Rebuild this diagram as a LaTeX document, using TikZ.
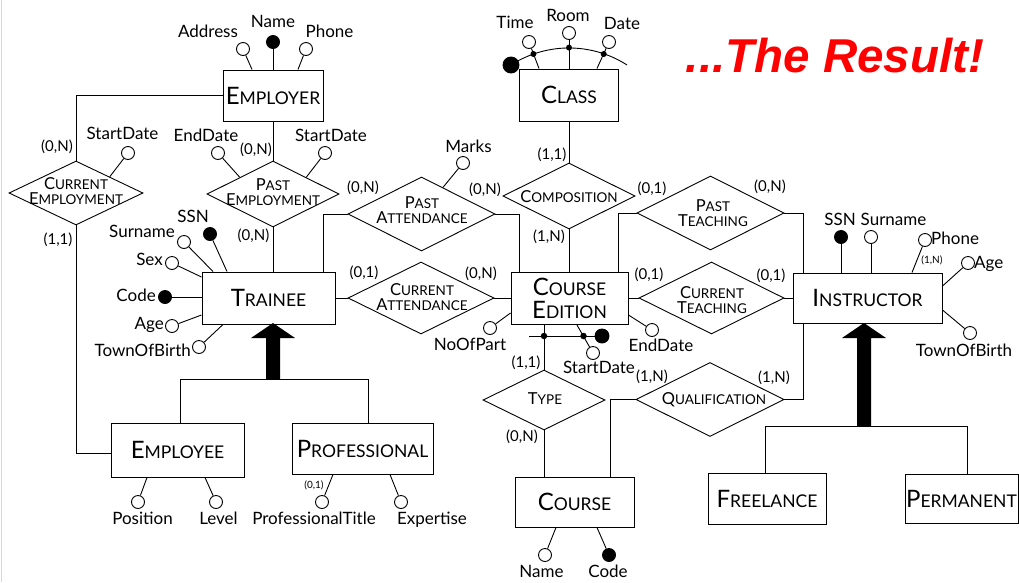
\documentclass[tikz,border=0pt]{standalone}
\usepackage{fontspec}
\setmainfont{Lato}
\newfontfamily\titlefont{Liberation Sans}
\usetikzlibrary{shapes.geometric,calc}
\definecolor{titlered}{RGB}{255,0,0}
\definecolor{edgegray}{RGB}{215,215,215}
% small-caps style names: first letter large, the rest smaller capitals
\newcommand\entname[2]{{\fontsize{24}{24}\selectfont #1}{\fontsize{17.5}{17.5}\selectfont #2}}
\newcommand\relname[2]{{\fontsize{16.5}{16.5}\selectfont #1}{\fontsize{13.5}{13.5}\selectfont #2}}
\newcommand\attrsize{\fontsize{17}{18}\selectfont}
\newcommand\cardsize{\fontsize{15}{16}\selectfont}
\newcommand\tinycard{\fontsize{10}{11}\selectfont}

\begin{document}
\begin{tikzpicture}[x=1pt,y=-1pt,
  conn/.style={line width=0.9pt},
  ent/.style={draw, fill=white, line width=1pt, inner sep=0pt, align=center},
  rel/.style={draw, fill=white, diamond, inner sep=0pt, line width=0.9pt},
  rtext/.style={align=center, inner sep=0pt, font=\fontsize{13.5}{15.5}\selectfont},
  attr/.style={circle, draw, fill=white, inner sep=0pt, minimum size=13pt, line width=0.9pt},
  idattr/.style={circle, draw, fill=black, inner sep=0pt, minimum size=13pt, line width=0.9pt},
  iddot/.style={circle, fill=black, inner sep=0pt, minimum size=6.5pt},
  lbl/.style={font=\attrsize, inner sep=0pt, text height=12pt, text depth=3pt},
  card/.style={font=\cardsize, inner sep=0pt},
  smallcard/.style={font=\tinycard, inner sep=0pt},
]
\fill[white] (0,0) rectangle (1019,582);
\useasboundingbox (0,0) rectangle (1019,582);
\draw[edgegray, line width=1.2pt] (1.5,0) -- (1.5,582);

% ---------- title ----------
\node[anchor=base, inner sep=0pt, text=titlered,
      font=\titlefont\bfseries\itshape\fontsize{47.5}{47.5}\selectfont] (title) at (835,72.7) {...The Result!};

% ---------- entities ----------
\node[ent, minimum width=100pt, minimum height=51pt] (employer) at (273,95.5) {\entname{E}{MPLOYER}};
\node[ent, minimum width=99pt, minimum height=52pt] (class) at (569,95) {\entname{C}{LASS}};
\node[ent, minimum width=133pt, minimum height=52pt] (trainee) at (268.5,298) {\entname{T}{RAINEE}};
\node[ent, minimum width=117pt, minimum height=52pt, font=\fontsize{17.5}{23}\selectfont] (ced) at (569.5,298.5)
  {\entname{C}{OURSE}\\\entname{E}{DITION}};
\node[ent, minimum width=149pt, minimum height=50pt] (instr) at (867.5,298) {\entname{I}{NSTRUCTOR}};
\node[ent, minimum width=133pt, minimum height=54pt] (employee) at (177.5,450) {\entname{E}{MPLOYEE}};
\node[ent, minimum width=141pt, minimum height=51pt] (prof) at (362.5,448.5) {\entname{P}{ROFESSIONAL}};
\node[ent, minimum width=119pt, minimum height=50pt] (course) at (574.5,502) {\entname{C}{OURSE}};
\node[ent, minimum width=118pt, minimum height=51pt] (freelance) at (767,498.5) {\entname{F}{REELANCE}};
\node[ent, minimum width=113pt, minimum height=49pt] (permanent) at (961.5,498.5) {\entname{P}{ERMANENT}};

% ---------- relationships ----------
\node[rel, minimum width=134pt, minimum height=64pt] (ce) at (76,193) {};
\node[rtext] (ce-t) at (76,191) {\relname{C}{URRENT}\\\relname{E}{MPLOYMENT}};
\node[rel, minimum width=132pt, minimum height=66pt] (pe) at (273,194) {};
\node[rtext] (pe-t) at (273,192) {\relname{P}{AST}\\\relname{E}{MPLOYMENT}};
\node[rel, minimum width=147pt, minimum height=74pt] (pa) at (421.5,214) {};
\node[rtext] (pa-t) at (422,210) {\relname{P}{AST}\\\relname{A}{TTENDANCE}};
\node[rel, minimum width=146pt, minimum height=72pt] (ca) at (421,298) {};
\node[rtext] (ca-t) at (422,297) {\relname{C}{URRENT}\\\relname{A}{TTENDANCE}};
\node[rel, minimum width=132pt, minimum height=66pt] (comp) at (569,196) {};
\node[rtext] (comp-t) at (569,197) {\relname{C}{OMPOSITION}};
\node[rel, minimum width=147pt, minimum height=74pt] (pt) at (710.5,213) {};
\node[rtext] (pt-t) at (713,213) {\relname{P}{AST}\\\relname{T}{EACHING}};
\node[rel, minimum width=145pt, minimum height=72pt] (ct) at (711.5,298) {};
\node[rtext] (ct-t) at (712,300) {\relname{C}{URRENT}\\\relname{T}{EACHING}};
\node[rel, minimum width=122pt, minimum height=60pt] (type) at (544,400) {};
\node[rtext] (type-t) at (545,399) {\relname{T}{YPE}};
\node[rel, minimum width=148pt, minimum height=74pt] (qual) at (710,399.5) {};
\node[rtext] (qual-t) at (714,400) {\relname{Q}{UALIFICATION}};

% ---------- relationship connectors ----------
\draw[conn] (employer.west) -| (ce.north);
\draw[conn] (ce.south) |- ([yshift=-3pt]employee.west);
\draw[conn] (employer.south) -- (pe.north);
\draw[conn] (pe.south) -- (pe.south |- trainee.north);
\draw[conn] (pa.west) -| (323,0 |- trainee.north);
\draw[conn] (pa.east) -| (519,0 |- ced.north);
\draw[conn] (trainee.east |- ca.west) -- (ca.west);
\draw[conn] (ca.east) -- (ced.west |- ca.east);
\draw[conn] (class.south) -- (comp.north);
\draw[conn] (comp.south) -- (comp.south |- ced.north);
\draw[conn] (pt.west) -| (618,0 |- ced.north);
\draw[conn] (pt.east) -| (803,0 |- instr.north);
\draw[conn] (ced.east |- ct.west) -- (ct.west);
\draw[conn] (ct.east) -- (instr.west |- ct.east);
\draw[conn] (qual.east) -| (803,0 |- instr.south);
\draw[conn] (qual.west) -| (610,0 |- course.north);
\draw[conn] (544,0 |- ced.south) -- (type.north);
\draw[conn] (type.south) -- (type.south |- course.north);

% ---------- generalizations ----------
\coordinate (tisa) at (273,379);
\fill (tisa) ++(-7,0) -- ++(0,-41) -- ++(-15,0) -- ++(22,-15) -- ++(22,15) -- ++(-15,0) -- ++(0,41) -- cycle;
\draw[conn] ([xshift=2.5pt]employee.north) |- (tisa) -| ([xshift=5.5pt]prof.north);
\coordinate (iisa) at (864,426);
\fill (iisa) ++(-7,0) -- ++(0,-88) -- ++(-15,0) -- ++(22,-15) -- ++(22,15) -- ++(-15,0) -- ++(0,88) -- cycle;
\draw[conn] ([xshift=-2pt]freelance.north) |- (iisa) -| ([xshift=5.5pt]permanent.north);

% ---------- attributes: Employer ----------
\node[attr] (em-addr) at (243,49) {};
\node[idattr] (em-name) at (273,42) {};
\node[attr] (em-phone) at (306,49) {};
\draw[conn] (em-addr) -- (252,0 |- employer.north);
\draw[conn] (em-name) -- (273,0 |- employer.north);
\draw[conn] (em-phone) -- (298,0 |- employer.north);
\node[lbl] at (208,33) {Address};
\node[lbl] at (273,23) {Name};
\node[lbl] at (329.5,33) {Phone};

% ---------- attributes of relationships ----------
\node[attr] (ce-sd) at (128,153) {};
\draw[conn] (ce-sd) -- (ce.north east);
\node[lbl] at (122.5,135) {StartDate};
\node[attr] (pe-ed) at (218,153) {};
\draw[conn] (pe-ed) -- (pe.north west);
\node[lbl] at (206,137) {EndDate};
\node[attr] (pe-sd) at (325,153) {};
\draw[conn] (pe-sd) -- (pe.north east);
\node[lbl] at (331,137) {StartDate};
\node[attr] (pa-mk) at (463,163) {};
\draw[conn] (pa-mk) -- ($(pa.north)!0.29!(pa.east)$);
\node[lbl] at (468.5,148) {Marks};

% ---------- attributes: Class ----------
\node[attr] (cl-time) at (529,42) {};
\node[attr] (cl-room) at (569,33) {};
\node[attr] (cl-date) at (609,42) {};
\draw[conn] (cl-time) -- (539,0 |- class.north);
\draw[conn] (cl-room) -- (569,0 |- class.north);
\draw[conn] (cl-date) -- (597,0 |- class.north);
\node[lbl] at (515,24) {Time};
\node[lbl] at (568,17) {Room};
\node[lbl] at (622,25) {Date};
\coordinate (cls-arc) at (511,65);
\draw[conn] (cls-arc) arc[start angle=-122.7, end angle=-57.3, radius=107.4];
\node[idattr, minimum size=16pt] (cls-id) at (cls-arc) {};

% ---------- attributes: Trainee ----------
\node[idattr] (tr-ssn) at (210,234) {};
\node[attr] (tr-sur) at (184,242) {};
\node[attr] (tr-sex) at (172,263) {};
\node[idattr] (tr-code) at (165,297) {};
\node[attr] (tr-age) at (172,326) {};
\node[attr] (tr-town) at (199,347) {};
\draw[conn] (tr-ssn) -- (227,0 |- trainee.north);
\draw[conn] (tr-sur) -- (213,0 |- trainee.north);
\draw[conn] (tr-sex) -- (trainee.west |- 0,277);
\draw[conn] (tr-code) -- (trainee.west |- 0,297);
\draw[conn] (tr-age) -- (trainee.west |- 0,315);
\draw[conn] (tr-town) -- (223,0 |- trainee.south);
\node[lbl] at (193,218) {SSN};
\node[lbl, anchor=east] at (175,233) {Surname};
\node[lbl, anchor=east] at (163,261) {Sex};
\node[lbl, anchor=east] at (156,297) {Code};
\node[lbl, anchor=east] at (164,325) {Age};
\node[lbl, anchor=east] at (191,352) {TownOfBirth};

% ---------- attributes: Course Edition ----------
\node[attr] (ced-nop) at (490,328) {};
\node[attr] (ced-sd) at (593,353) {};
\node[attr] (ced-ed) at (652,330) {};
\draw[conn] (ced-nop) -- (ced.west |- 0,313);
\draw[conn] (ced-sd) -- (577,0 |- ced.south);
\draw[conn] (ced-ed) -- (ced.east |- 0,315);
\node[lbl] at (470,346) {NoOfPart};
\node[lbl] at (599,369) {StartDate};
\node[lbl] at (661,347) {EndDate};
\coordinate (ced-idl) at (529,336);
\node[idattr, minimum size=14pt] (ced-id) at (602,336) {};
\draw[conn] (ced-idl) -- (ced-id);

% ---------- attributes: Instructor ----------
\node[idattr] (in-ssn) at (841,237) {};
\node[attr] (in-sur) at (871,237) {};
\node[attr] (in-phone) at (925,240) {};
\node[attr] (in-age) at (968,263) {};
\node[attr] (in-town) at (970,333) {};
\draw[conn] (in-ssn) -- (841,0 |- instr.north);
\draw[conn] (in-sur) -- (871,0 |- instr.north);
\draw[conn] (in-phone) -- (912,0 |- instr.north);
\draw[conn] (in-age) -- (instr.east |- 0,286);
\draw[conn] (in-town) -- (instr.east |- 0,310);
\node[lbl] at (840,221) {SSN};
\node[lbl] at (893.5,221) {Surname};
\node[lbl, anchor=west] at (931,240) {Phone};
\node[smallcard] at (932,260) {(1,N)};
\node[lbl, anchor=west] at (974,264) {Age};
\node[lbl] at (964,352) {TownOfBirth};

% ---------- attributes: Employee, Professional, Course ----------
\node[attr] (ee-pos) at (138,502) {};
\node[attr] (ee-lev) at (216,502) {};
\draw[conn] (ee-pos) -- (147,0 |- employee.south);
\draw[conn] (ee-lev) -- (205,0 |- employee.south);
\node[lbl] at (142.5,520) {Position};
\node[lbl] at (218.5,520) {Level};
\node[attr] (pr-title) at (322,502) {};
\node[attr] (pr-exp) at (401,502) {};
\draw[conn] (pr-title) -- (333,0 |- prof.south);
\draw[conn] (pr-exp) -- (390,0 |- prof.south);
\node[smallcard] at (314,485) {(0,1)};
\node[lbl] at (314,520) {ProfessionalTitle};
\node[lbl] at (432,520) {Expertise};
\node[attr] (co-name) at (545,555) {};
\node[idattr] (co-code) at (609,555) {};
\draw[conn] (co-name) -- (556,0 |- course.south);
\draw[conn] (co-code) -- (597,0 |- course.south);
\node[lbl] at (541.5,573) {Name};
\node[lbl] at (608,573) {Code};

% ---------- identifier dots ----------
\node[iddot, minimum size=6pt] (cls-d1) at (533.4,54) {};
\node[iddot, minimum size=6pt] (cls-d2) at (569,47.6) {};
\node[iddot, minimum size=6pt] (cls-d3) at (603.7,54) {};
\node[iddot] (ced-d1) at (544,336) {};
\node[iddot] (ced-d2) at (583.5,336) {};

% ---------- cardinalities ----------
\node[card] at (57,147) {(0,N)};
\node[card] at (58,240) {(1,1)};
\node[card] at (256,150) {(0,N)};
\node[card] at (253.5,236) {(0,N)};
\node[card] at (363,188) {(0,N)};
\node[card] at (485,190) {(0,N)};
\node[card] at (364,273) {(0,1)};
\node[card] at (481,274) {(0,N)};
\node[card] at (552,155) {(1,1)};
\node[card] at (549,237) {(1,N)};
\node[card] at (652,189) {(0,1)};
\node[card] at (770,187) {(0,N)};
\node[card] at (649,275) {(0,1)};
\node[card] at (771,276) {(0,1)};
\node[card] at (526,363) {(1,1)};
\node[card] at (522,437) {(0,N)};
\node[card] at (652,377) {(1,N)};
\node[card] at (774,378) {(1,N)};
\end{tikzpicture}
\end{document}
